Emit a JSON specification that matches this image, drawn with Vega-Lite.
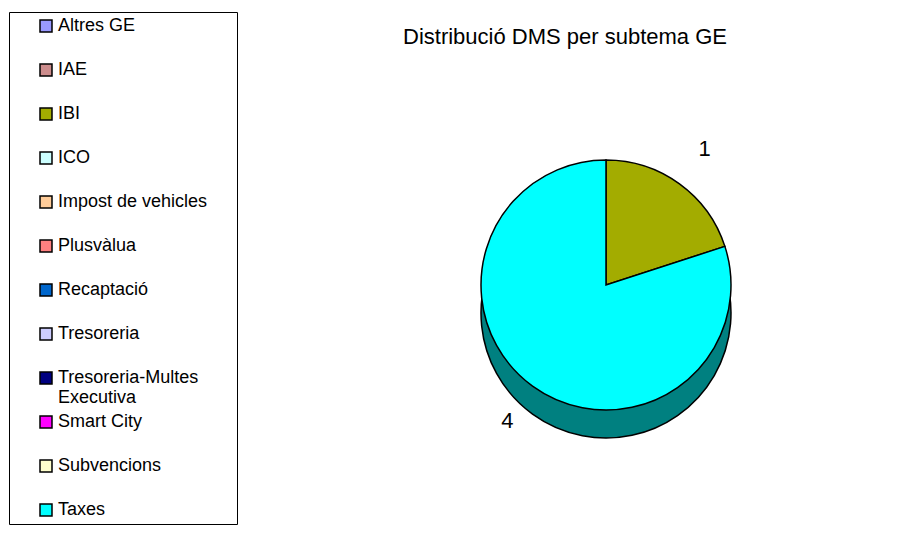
{
  "$schema": "https://vega.github.io/schema/vega-lite/v6.json",
  "width": 592,
  "height": 470,
  "autosize": "none",
  "padding": {"left": 310, "top": 50, "right": 0, "bottom": 20},
  "background": "white",
  "config": {
    "view": {"stroke": null},
    "font": "Liberation Sans"
  },
  "title": {
    "text": "Distribució DMS per subtema GE",
    "fontSize": 22,
    "fontWeight": "normal",
    "font": "Liberation Sans",
    "color": "black",
    "anchor": "middle",
    "dx": -41,
    "dy": 41,
    "offset": 4
  },
  "data": {
    "values": [
      {"subtema": "IBI", "dms": 1},
      {"subtema": "Taxes", "dms": 4}
    ]
  },
  "encoding": {
    "theta": {"field": "dms", "type": "quantitative", "stack": true}
  },
  "layer": [
    {
      "mark": {"type": "arc", "outerRadius": 125, "yOffset": 28, "stroke": "black", "strokeWidth": 1.5},
      "encoding": {
        "color": {
          "field": "subtema",
          "type": "nominal",
          "legend": null,
          "scale": {
            "domain": ["Altres GE", "IAE", "IBI", "ICO", "Impost de vehicles", "Plusvàlua", "Recaptació", "Tresoreria", "Tresoreria-Multes Executiva", "Smart City", "Subvencions", "Taxes"],
            "range": ["#4D4D80", "#664646", "#525600", "#668080", "#80664D", "#804040", "#003366", "#666680", "#000040", "#800080", "#808066", "#008080"]
          }
        }
      }
    },
    {
      "mark": {"type": "arc", "outerRadius": 125, "stroke": "black", "strokeWidth": 1.5},
      "encoding": {
        "color": {
          "field": "subtema",
          "type": "nominal",
          "scale": {
            "domain": ["Altres GE", "IAE", "IBI", "ICO", "Impost de vehicles", "Plusvàlua", "Recaptació", "Tresoreria", "Tresoreria-Multes Executiva", "Smart City", "Subvencions", "Taxes"],
            "range": ["#9999FF", "#CC8C8C", "#A3AC00", "#CCFFFF", "#FFCC99", "#FF8080", "#0066CC", "#CCCCFF", "#000080", "#FF00FF", "#FFFFCC", "#00FFFF"]
          },
          "legend": {
            "title": "\u00a0",
            "titleOrient": "right",
            "titlePadding": 25,
            "titleFontSize": 10,
            "orient": "none",
            "legendX": -301,
            "legendY": -38,
            "direction": "vertical",
            "gridAlign": "all",
            "symbolType": "square",
            "symbolSize": 144,
            "symbolStrokeColor": "black",
            "symbolStrokeWidth": 1.5,
            "symbolOpacity": 1,
            "symbolOffset": 23,
            "labelOffset": 3,
            "labelFontSize": 18,
            "labelFont": "Liberation Sans",
            "labelColor": "black",
            "labelLimit": 300,
            "labelExpr": "datum.label == 'Tresoreria-Multes Executiva' ? ['Tresoreria-Multes', 'Executiva'] : datum.label",
            "rowPadding": 6,
            "padding": 5,
            "strokeColor": "black"
          }
        }
      }
    },
    {
      "mark": {"type": "text", "radius": 168, "fontSize": 22, "font": "Liberation Sans", "color": "black"},
      "encoding": {
        "text": {"field": "dms", "type": "quantitative"},
        "detail": {"field": "subtema", "type": "nominal"}
      }
    }
  ],
  "resolve": {"scale": {"color": "independent"}}
}
